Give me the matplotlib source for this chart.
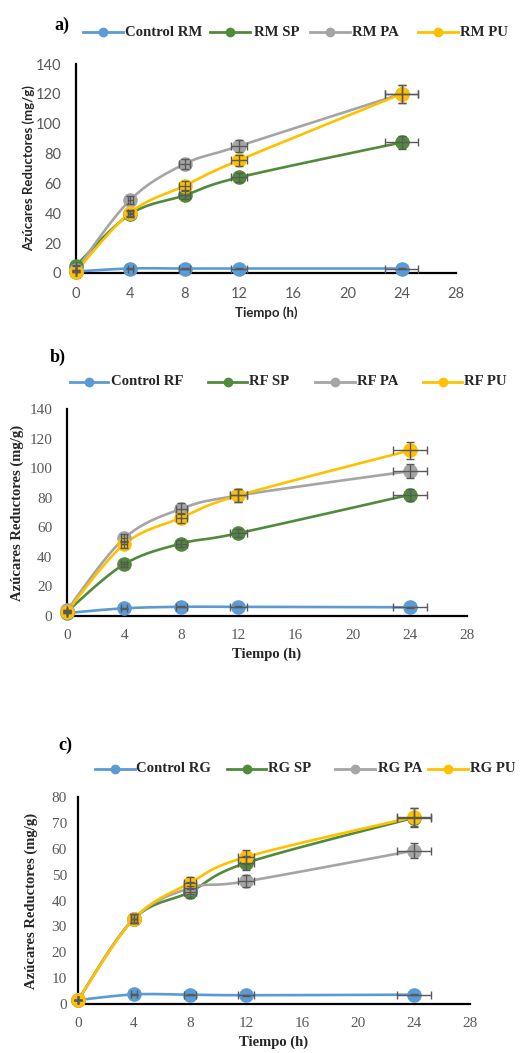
import numpy as np
import matplotlib
matplotlib.use("Agg")
import matplotlib.pyplot as plt
from matplotlib.lines import Line2D

W, H = 526, 1053
DPI = 100

time_h = [0, 4, 8, 12, 24]

# Panel a (RM)
labels_a = ["Control RM", "RM SP", "RM PA", "RM PU"]
control_rm = [1.0, 3.0, 3.0, 3.0, 3.0]
rm_sp = [5.0, 39.5, 52.0, 64.0, 87.5]
rm_pa = [2.0, 49.0, 73.0, 85.0, 120.0]
rm_pu = [1.0, 40.5, 58.5, 75.5, 120.0]

# Panel b (RF)
labels_b = ["Control RF", "RF SP", "RF PA", "RF PU"]
control_rf = [2.0, 5.2, 6.2, 6.2, 5.9]
rf_sp = [3.0, 35.0, 49.0, 56.0, 82.0]
rf_pa = [4.0, 52.5, 72.5, 81.5, 98.0]
rf_pu = [3.0, 48.5, 66.5, 81.5, 112.0]

# Panel c (RG)
labels_c = ["Control RG", "RG SP", "RG PA", "RG PU"]
control_rg = [1.5, 3.7, 3.6, 3.4, 3.6]
rg_sp = [1.5, 33.0, 43.3, 54.5, 72.0]
rg_pa = [1.5, 33.0, 44.8, 47.4, 59.3]
rg_pu = [1.5, 33.0, 46.8, 56.8, 72.3]

ERR_FRAC = 0.05  # 5 % error bars (x and y)

COLORS = ["#5B9BD5", "#4F8B3A", "#A5A5A5", "#FFC000"]
ERRC = "#595959"

SERIF = ["Liberation Serif", "DejaVu Serif"]
SANS = ["Lato", "DejaVu Sans"]

fig = plt.figure(figsize=(W / DPI, H / DPI), dpi=DPI)


def fx(px):
    return px / W


def fy(py):
    return 1 - py / H


def smooth(ax, xs, ys, n=30):
    pts = ax.transData.transform(np.column_stack([xs, ys]))
    P = np.vstack([pts[0], pts, pts[-1]])
    out = []
    for i in range(1, len(P) - 2):
        p0, p1, p2, p3 = P[i - 1], P[i], P[i + 1], P[i + 2]
        c1 = p1 + (p2 - p0) / 6.0
        c2 = p2 - (p3 - p1) / 6.0
        t = np.linspace(0, 1, n)[:, None]
        seg = ((1 - t) ** 3) * p1 + 3 * ((1 - t) ** 2) * t * c1 + 3 * (1 - t) * t ** 2 * c2 + t ** 3 * p2
        out.append(seg if i == 1 else seg[1:])
    out = np.vstack(out)
    return ax.transData.inverted().transform(out).T


def panel(box, ymax, ystep, series, labels, tick_font, label_font, tick_size,
          label_size, ypad, xpad, ylabelpad, letter, letter_pos, legend_y, legend_items):
    left, right, top, bottom = box
    ax = fig.add_axes([fx(left), fy(bottom), fx(right) - fx(left), (bottom - top) / H])
    ax.set_xlim(0, 28)
    ax.set_ylim(0, ymax)
    ax.set_xticks(range(0, 29, 4))
    ax.set_yticks(np.arange(0, ymax + 0.1, ystep))
    for s in ["top", "right"]:
        ax.spines[s].set_visible(False)
    for s in ["left", "bottom"]:
        ax.spines[s].set_linewidth(1.6)
        ax.spines[s].set_color("black")
    ax.tick_params(length=0, labelsize=tick_size, colors="#595959")
    ax.tick_params(axis="y", pad=ypad)
    ax.tick_params(axis="x", pad=xpad)
    for lab in ax.get_xticklabels() + ax.get_yticklabels():
        lab.set_family(tick_font)
    x = np.array(time_h, dtype=float)
    for vals, c in zip(series, COLORS):
        y = np.array(vals, dtype=float)
        sx, sy = smooth(ax, x, y)
        ax.plot(sx, sy, color=c, lw=1.9, zorder=3, clip_on=False)
        ax.plot(x, y, "o", color=c, ms=9.5, zorder=4, clip_on=False)
        ax.errorbar(x, y, xerr=ERR_FRAC * x, yerr=ERR_FRAC * y, fmt="none",
                    ecolor=ERRC, elinewidth=1.0, capsize=3, capthick=1.0,
                    zorder=5, clip_on=False)
    ax.set_xlabel("Tiempo (h)", family=label_font, fontweight="bold",
                  fontsize=label_size, color="#262626", labelpad=4)
    ax.set_ylabel("Azúcares Reductores (mg/g)", family=label_font,
                  fontweight="bold", fontsize=label_size, color="#262626",
                  labelpad=ylabelpad)
    fig.text(fx(letter_pos[0]), fy(letter_pos[1]), letter, family=SERIF,
             fontweight="bold", fontsize=13, ha="left", va="center")
    for (x0, x1, tx), lab, c in zip(legend_items, labels, COLORS):
        fig.add_artist(Line2D([fx(x0), fx(x1)], [fy(legend_y)] * 2, color=c, lw=2.0))
        fig.add_artist(Line2D([fx((x0 + x1) / 2)], [fy(legend_y)], marker="o",
                              color=c, ms=6))
        fig.text(fx(tx), fy(legend_y), lab, family=SERIF, fontweight="bold",
                 fontsize=10.6, ha="left", va="center", color="#262626")
    return ax


panel((76, 456, 64, 273), 140, 20,
      [control_rm, rm_sp, rm_pa, rm_pu], labels_a, SANS, SANS, 10.5, 9.5,
      10.5, 10, 0.5, "a)", (54, 25), 32,
      [(83, 123, 125), (210, 250, 254), (310, 350, 352), (418, 458, 460)])

panel((67, 467, 409, 616), 140, 20,
      [control_rf, rf_sp, rf_pa, rf_pu], labels_b, SERIF, SERIF, 11, 10.5,
      10.5, 9.5, 4, "b)", (50, 357), 382,
      [(70, 108, 111), (208, 247, 249), (315, 355, 357), (423, 462, 464)])

panel((78, 470, 797, 1004), 80, 10,
      [control_rg, rg_sp, rg_pa, rg_pu], labels_c, SERIF, SERIF, 11, 10.5,
      8, 9.5, 10, "c)", (58, 745), 769,
      [(95, 135, 136), (227, 266, 268), (335, 375, 378), (428, 468, 470)])

fig.savefig("out.png", dpi=DPI)
